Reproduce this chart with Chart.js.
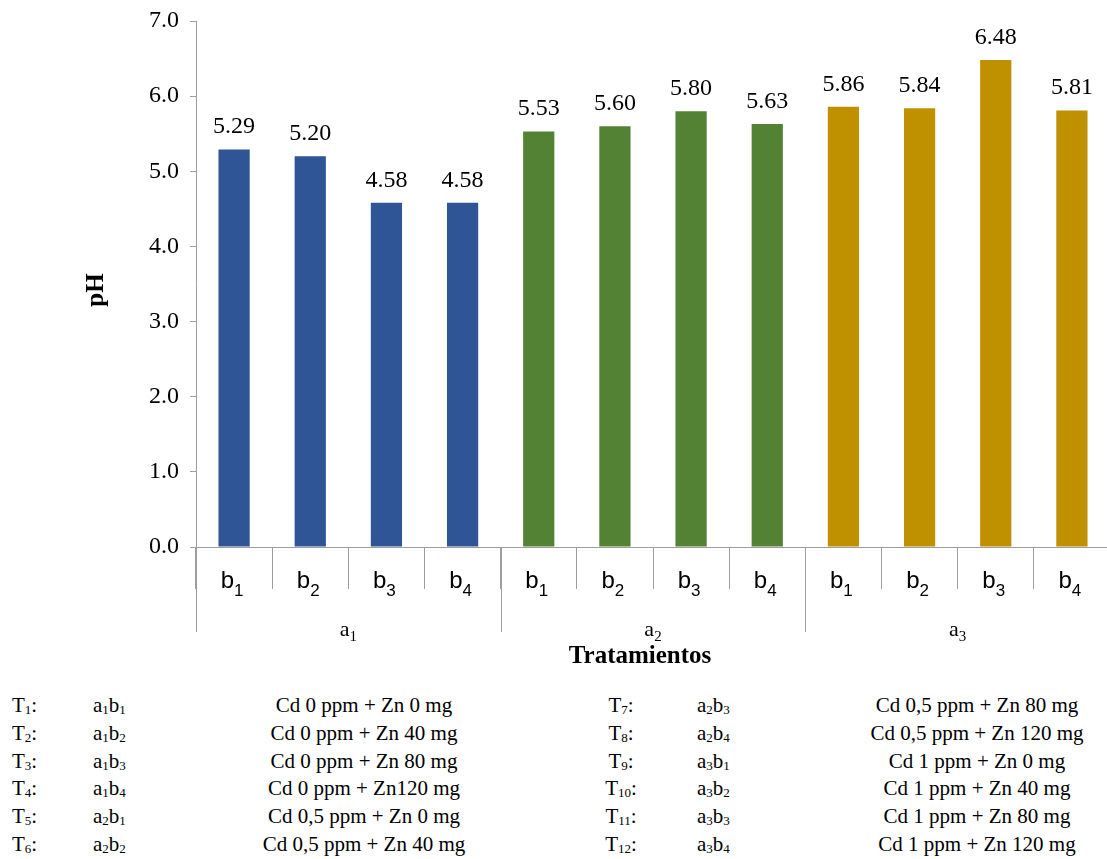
<!DOCTYPE html>
<html>
<head>
<meta charset="utf-8">
<script src="https://cdn.jsdelivr.net/npm/chart.js@4.4.1/dist/chart.umd.min.js"></script>
<style>
  html, body { margin: 0; padding: 0; background: #fff; overflow: hidden; width: 1107px; height: 859px; }
  #chartBox { position: absolute; left: 0; top: 0; width: 1112px; height: 680px; }
  .key { position: absolute; font-family: "Liberation Serif", serif; font-size: 21px; color: #000; white-space: nowrap; line-height: 27.8px; }
  .key sub { font-size: 13px; vertical-align: -2px; line-height: 0; }
</style>
</head>
<body>
<div id="chartBox"><canvas id="c" width="1112" height="680"></canvas></div>
<div id="keys"></div>
<script>
// Soil pH per treatment (factor a = Cd level, factor b = Zn dose)
const groupLabels = ['1', '2', '3'];          // a1, a2, a3
const levelLabels = ['1', '2', '3', '4'];     // b1..b4
const categories = ['a1b1','a1b2','a1b3','a1b4','a2b1','a2b2','a2b3','a2b4','a3b1','a3b2','a3b3','a3b4'];
const phValues = [5.29, 5.20, 4.58, 4.58, 5.53, 5.60, 5.80, 5.63, 5.86, 5.84, 6.48, 5.81];
const groupColors = ['#2F5597', '#548235', '#BF9000'];
const yTicks = [0, 1, 2, 3, 4, 5, 6, 7];

// Treatment key
const treatmentNums = ['1','2','3','4','5','6','7','8','9','10','11','12'];
const keyA = ['1','1','1','1','2','2','2','2','3','3','3','3'];
const keyB = ['1','2','3','4','1','2','3','4','1','2','3','4'];
const keyText = [
  'Cd 0 ppm + Zn 0 mg', 'Cd 0 ppm + Zn 40 mg', 'Cd 0 ppm + Zn 80 mg', 'Cd 0 ppm + Zn120 mg',
  'Cd 0,5 ppm + Zn 0 mg', 'Cd 0,5 ppm + Zn 40 mg', 'Cd 0,5 ppm + Zn 80 mg', 'Cd 0,5 ppm + Zn 120 mg',
  'Cd 1 ppm + Zn 0 mg', 'Cd 1 ppm + Zn 40 mg', 'Cd 1 ppm + Zn 80 mg', 'Cd 1 ppm + Zn 120 mg'
];

const AXIS_GRAY = '#9e9e9e';
const SERIF = '"Liberation Serif"';
const SANS = '"Liberation Sans"';

function drawSubText(ctx, base, sub, cx, baseline, baseFont, subFont, drop) {
  ctx.font = baseFont;
  const w1 = ctx.measureText(base).width;
  ctx.font = subFont;
  const w2 = ctx.measureText(sub).width;
  const x0 = cx - (w1 + w2) / 2;
  ctx.textAlign = 'left';
  ctx.textBaseline = 'alphabetic';
  ctx.font = baseFont;
  ctx.fillText(base, x0, baseline);
  ctx.font = subFont;
  ctx.fillText(sub, x0 + w1, baseline + drop);
}

const decorations = {
  id: 'decorations',
  afterDraw(chart) {
    const ctx = chart.ctx;
    const x = chart.scales.x;
    const meta = chart.getDatasetMeta(0);
    const n = categories.length;
    const catW = x.width / n;
    ctx.save();
    ctx.fillStyle = '#000';

    // value labels above the bars
    ctx.font = '24px ' + SERIF;
    ctx.textAlign = 'center';
    ctx.textBaseline = 'alphabetic';
    meta.data.forEach((bar, i) => {
      ctx.fillText(phValues[i].toFixed(2), bar.x, bar.y - 16);
    });

    // inner category labels b1..b4
    for (let i = 0; i < n; i++) {
      const cx = x.getPixelForValue(i);
      drawSubText(ctx, 'b', levelLabels[i % 4], cx - 2, x.top + 41, '24px ' + SANS, '17px ' + SANS, 8);
    }

    // group separators reaching down to the outer label row
    ctx.strokeStyle = AXIS_GRAY;
    ctx.lineWidth = 1;
    for (let g = 0; g <= groupLabels.length; g++) {
      const idx = Math.min(g * 4, n - 1);
      const px = Math.round(x.getPixelForValue(idx) + (g * 4 >= n ? catW / 2 : -catW / 2)) + 0.5;
      ctx.beginPath();
      ctx.moveTo(px, x.top);
      ctx.lineTo(px, x.top + 85);
      ctx.stroke();
    }

    // outer group labels a1..a3
    groupLabels.forEach((g, k) => {
      const cx = (x.getPixelForValue(k * 4) + x.getPixelForValue(k * 4 + 3)) / 2;
      drawSubText(ctx, 'a', g, cx, x.top + 89, '22px ' + SERIF, '15px ' + SERIF, 5);
    });

    // axis titles
    ctx.font = 'bold 25px ' + SERIF;
    ctx.textAlign = 'center';
    ctx.textBaseline = 'alphabetic';
    ctx.fillText('Tratamientos', 640, x.top + 116);

    ctx.translate(97, 290);
    ctx.rotate(-Math.PI / 2);
    ctx.textBaseline = 'middle';
    ctx.fillText('pH', 0, 0);
    ctx.restore();
  }
};

function buildChart() {
  new Chart(document.getElementById('c'), {
    type: 'bar',
    data: {
      labels: categories,
      datasets: [{
        data: phValues,
        backgroundColor: phValues.map((v, i) => groupColors[Math.floor(i / 4)]),
        borderWidth: 0,
        categoryPercentage: 1,
        barPercentage: 0.41
      }]
    },
    options: {
      responsive: false,
      devicePixelRatio: 1,
      animation: false,
      layout: { padding: { top: 21, right: 2, left: 0, bottom: 0 } },
      plugins: { legend: { display: false }, tooltip: { enabled: false } },
      scales: {
        x: {
          offset: true,
          grid: { display: true, drawOnChartArea: false, drawTicks: true, tickLength: 42, color: AXIS_GRAY, offset: true },
          border: { display: true, color: AXIS_GRAY, width: 1 },
          ticks: { display: false },
          afterFit(scale) { scale.height = 133; scale.paddingLeft = 0; scale.paddingRight = 0; }
        },
        y: {
          min: 0, max: 7,
          afterBuildTicks(scale) { scale.ticks = yTicks.map(v => ({ value: v })); },
          grid: { display: true, drawOnChartArea: false, drawTicks: true, tickLength: 6, color: AXIS_GRAY },
          border: { display: true, color: AXIS_GRAY, width: 1 },
          ticks: {
            color: '#000',
            padding: 11,
            font: { family: SERIF, size: 24 },
            callback: v => Number(v).toFixed(1)
          },
          afterFit(scale) { scale.width = 196; scale.paddingTop = 0; scale.paddingBottom = 0; }
        }
      }
    },
    plugins: [decorations]
  });
}

// treatment key under the chart
const keys = document.getElementById('keys');
function addKey(html, left, top, width, align) {
  const d = document.createElement('div');
  d.className = 'key';
  d.innerHTML = html;
  d.style.top = top + 'px';
  if (align === 'center') {
    d.style.left = (left - width / 2) + 'px';
    d.style.width = width + 'px';
    d.style.textAlign = 'center';
  } else {
    d.style.left = left + 'px';
  }
  keys.appendChild(d);
}
treatmentNums.forEach((t, i) => {
  const row = i % 6;
  const top = 692 + row * 27.8;
  const code = 'T<sub>' + t + '</sub>:';
  const combo = 'a<sub>' + keyA[i] + '</sub>b<sub>' + keyB[i] + '</sub>';
  if (i < 6) {
    addKey(code, 12, top);
    addKey(combo, 93, top);
    addKey(keyText[i], 364, top, 400, 'center');
  } else {
    addKey(code, 621, top, 100, 'center');
    addKey(combo, 697, top);
    addKey(keyText[i], 977, top, 400, 'center');
  }
});

Promise.all([
  document.fonts.load('24px "Liberation Serif"'),
  document.fonts.load('bold 25px "Liberation Serif"'),
  document.fonts.load('24px "Liberation Sans"')
]).then(buildChart, buildChart);
</script>
</body>
</html>
